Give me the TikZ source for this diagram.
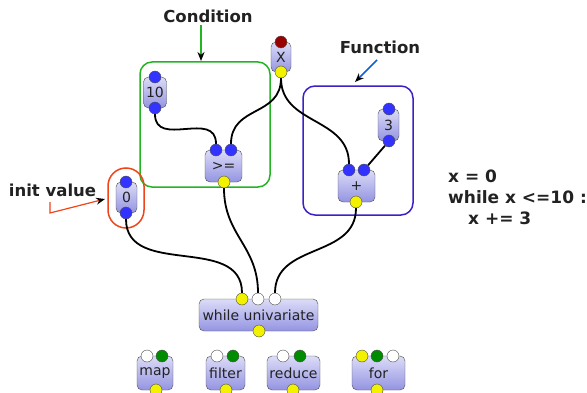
\documentclass[tikz,border=0pt]{standalone}
\usepackage{fontspec}
\setmainfont{DejaVu Sans}
\usepackage{xcolor}
\usetikzlibrary{arrows.meta}

\definecolor{blkTop}{HTML}{DCDCF8}
\definecolor{blkBot}{HTML}{9494E2}
\definecolor{portBlue}{HTML}{3333FF}
\definecolor{portYellow}{HTML}{F2F200}
\definecolor{portGreen}{HTML}{008C00}
\definecolor{portRed}{HTML}{990000}
\definecolor{condGreen}{HTML}{22B422}
\definecolor{funcBlue}{HTML}{3A22C8}
\definecolor{initRed}{HTML}{F0441A}
\definecolor{arrBlue}{HTML}{1060D8}
\definecolor{txtDark}{HTML}{222222}

\begin{document}
\begin{tikzpicture}[x=1pt,y=1pt,
  blk/.style={draw=black!70,rounded corners=5pt,top color=blkTop,bottom color=blkBot,inner sep=0pt,text=txtDark,font=\fontsize{14}{16}\selectfont},
  port/.style={circle,draw=black!70,inner sep=0pt,minimum size=12pt},
  bport/.style={port,fill=portBlue},
  yport/.style={port,fill=portYellow},
  wport/.style={port,fill=white},
  gport/.style={port,fill=portGreen},
  rport/.style={port,fill=portRed},
  wire/.style={line width=1.8pt},
  grp/.style={line width=1.5pt,inner sep=0pt},
  lbl/.style={font=\bfseries\fontsize{16.5}{18}\selectfont,text=txtDark,inner sep=0pt},
  code/.style={font=\bfseries\fontsize{17}{20}\selectfont,text=txtDark,inner sep=0pt,anchor=base west},
  tip/.style={-{Stealth[black,length=9pt,width=7pt]}}]
\useasboundingbox (0,0) rectangle (587,392);

% groups
\node (cond) at (205,267.5) [grp,draw=condGreen,rounded corners=12pt,minimum width=130pt,minimum height=125pt] {};
\node (func) at (358,241.5) [grp,draw=funcBlue,rounded corners=12pt,minimum width=110pt,minimum height=129pt] {};
\node (init) at (126,194) [grp,draw=initRed,rounded corners=18pt,minimum width=36pt,minimum height=60pt] {};

% labels
\node (condlbl) at (208,370) [lbl,anchor=base] {Condition};
\node (funclbl) at (380,338) [lbl,anchor=base] {Function};
\node (initlbl) at (52.5,196) [lbl,anchor=base] {init value};
\coordinate (condA) at (201,367);
\coordinate (condB) at (201,331);
\coordinate (funcA) at (377,332);
\coordinate (funcB) at (355,310);
\coordinate (initA) at (50,190);
\coordinate (initB) at (50,179);
\coordinate (initC) at (105,193);
\draw[line width=1.6pt,condGreen,tip] (condA) -- (condB);
\draw[line width=1.6pt,arrBlue,tip] (funcA) -- (funcB);
\draw[line width=1.2pt,initRed,tip] (initA) -- (initB) -- (initC);

% blocks
\node (x) at (281,335) [blk,minimum width=20pt,minimum height=30pt] {X};
\node (ten) at (155,299.5) [blk,minimum width=23pt,minimum height=31pt] {10};
\node (ge) at (223.5,226) [blk,minimum width=37pt,minimum height=32pt] {>=};
\node (zero) at (126.5,194.5) [blk,minimum width=21pt,minimum height=31pt] {0};
\node (three) at (388.5,267) [blk,minimum width=21pt,minimum height=32pt] {3};
\node (plus) at (356.5,206) [blk,minimum width=37pt,minimum height=32pt] {+};
\node (while) at (258.5,77) [blk,minimum width=119pt,minimum height=32pt] {while univariate};
\node (map) at (155,19) [blk,minimum width=36pt,minimum height=34pt] {map};
\node (filter) at (225.5,19) [blk,minimum width=39pt,minimum height=34pt] {filter};
\node (reduce) at (293.5,19) [blk,minimum width=53pt,minimum height=34pt] {reduce};
\node (for) at (378.5,19) [blk,minimum width=53pt,minimum height=34pt] {for};

% ports
\node (xI) at (281,350) [rport] {};
\node (xO) at (281,320) [yport] {};
\node (tenI) at (155,315) [bport] {};
\node (tenO) at (155,284) [bport] {};
\node (geA) at (216,242) [bport] {};
\node (geB) at (231,242) [bport] {};
\node (geO) at (224,210) [yport] {};
\node (zeroI) at (126,210) [bport] {};
\node (zeroO) at (126,179) [bport] {};
\node (threeI) at (389,283) [bport] {};
\node (threeO) at (389,251) [bport] {};
\node (plusA) at (349,222) [bport] {};
\node (plusB) at (364,222) [bport] {};
\node (plusO) at (356,190) [yport] {};
\node (whileA) at (242,93) [yport] {};
\node (whileB) at (258,93) [wport] {};
\node (whileC) at (275,93) [wport] {};
\node (whileO) at (259,61) [yport] {};
\node (mapA) at (147,36) [wport] {};
\node (mapB) at (162,36) [gport] {};
\node (mapO) at (156,2) [yport] {};
\node (filterA) at (217,36) [wport] {};
\node (filterB) at (233,36) [gport] {};
\node (filterO) at (226,2) [yport] {};
\node (reduceA) at (283,36) [wport] {};
\node (reduceB) at (300,36) [gport] {};
\node (reduceO) at (293,2) [yport] {};
\node (forA) at (362,36) [yport] {};
\node (forB) at (377,36) [gport] {};
\node (forC) at (393,36) [wport] {};
\node (forO) at (377,2) [yport] {};

% wires
\draw[wire] (tenO) to[out=-90,in=90,looseness=1.3] (geA);
\draw[wire] (xO) to[out=-90,in=90,looseness=1.2] (geB);
\draw[wire] (xO) to[out=-90,in=90,looseness=1.1] (plusA);
\draw[wire] (threeO) -- (plusB);
\draw[wire] (zeroO) to[out=-90,in=90,looseness=1.1] (whileA);
\draw[wire] (geO) to[out=-90,in=90,looseness=1.1] (whileB);
\draw[wire] (plusO) to[out=-90,in=90,looseness=1.1] (whileC);

% code
\node (code1) at (448,210) [code] {x = 0};
\node (code2) at (448,189) [code] {while x <=10 :};
\node (code3) at (468,168) [code] {x += 3};
\end{tikzpicture}
\end{document}
